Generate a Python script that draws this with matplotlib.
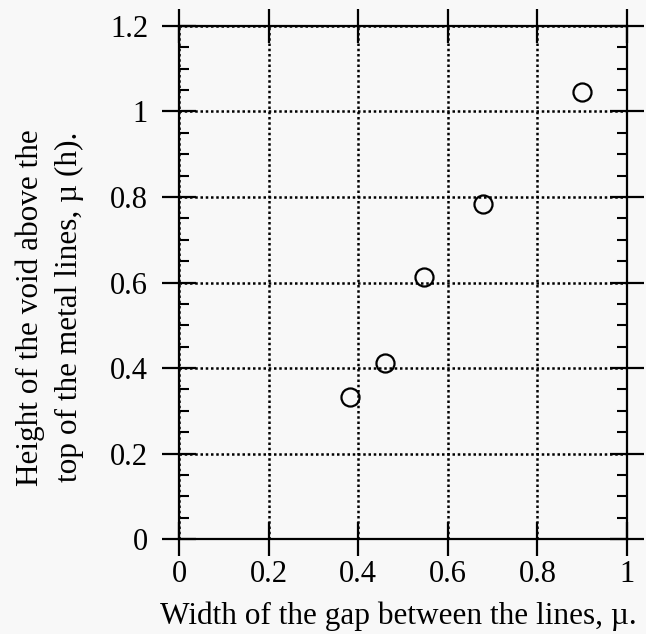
import matplotlib
matplotlib.use("Agg")
import matplotlib.pyplot as plt
from matplotlib.ticker import MultipleLocator

gap_width = [0.382, 0.46, 0.547, 0.679, 0.90]
void_height = [0.332, 0.412, 0.613, 0.784, 1.046]
x_ticks = [0, 0.2, 0.4, 0.6, 0.8, 1]
x_ticklabels = ["0", "0.2", "0.4", "0.6", "0.8", "1"]
y_ticks = [0, 0.2, 0.4, 0.6, 0.8, 1, 1.2]
y_ticklabels = ["0", "0.2", "0.4", "0.6", "0.8", "1", "1.2"]

plt.rcParams['font.family'] = ['Liberation Serif', 'DejaVu Serif']
bg = '#f8f8f8'
fig = plt.figure(figsize=(6.46, 6.34), dpi=100, facecolor=bg)
ax = fig.add_axes([0.277, 0.1498, 0.6936, 0.8092], facecolor=bg)

ax.plot(gap_width, void_height, linestyle='none', marker='o', markersize=13,
        markerfacecolor='none', markeredgecolor='black', markeredgewidth=1.6, zorder=5)

ax.set_xlim(0, 1)
ax.set_ylim(0, 1.2)
ax.set_xticks(x_ticks)
ax.set_xticklabels(x_ticklabels)
ax.set_yticks(y_ticks)
ax.set_yticklabels(y_ticklabels)
ax.yaxis.set_minor_locator(MultipleLocator(0.05))

ax.grid(True, which='major', linestyle=(0, (1, 1.1)), linewidth=1.8, color='black')
ax.tick_params(which='major', direction='inout', length=24.5, width=1.6, labelsize=22,
               top=True, right=True, labeltop=False, labelright=False)
ax.tick_params(axis='x', which='major', pad=3)
ax.tick_params(axis='y', which='major', pad=10)
ax.tick_params(which='minor', direction='in', length=7.5, width=1.5, left=True, right=True)
for s in ax.spines.values():
    s.set_linewidth(1.6)

ax.set_xlabel("Width of the gap between the lines, µ.", fontsize=22.5, labelpad=9, x=0.49)
ax.set_ylabel("Height of the void above the\ntop of the metal lines, µ (h).", fontsize=22.5,
              labelpad=19, linespacing=1.45, y=0.452)

fig.savefig("out.png", dpi=100, facecolor=bg)
